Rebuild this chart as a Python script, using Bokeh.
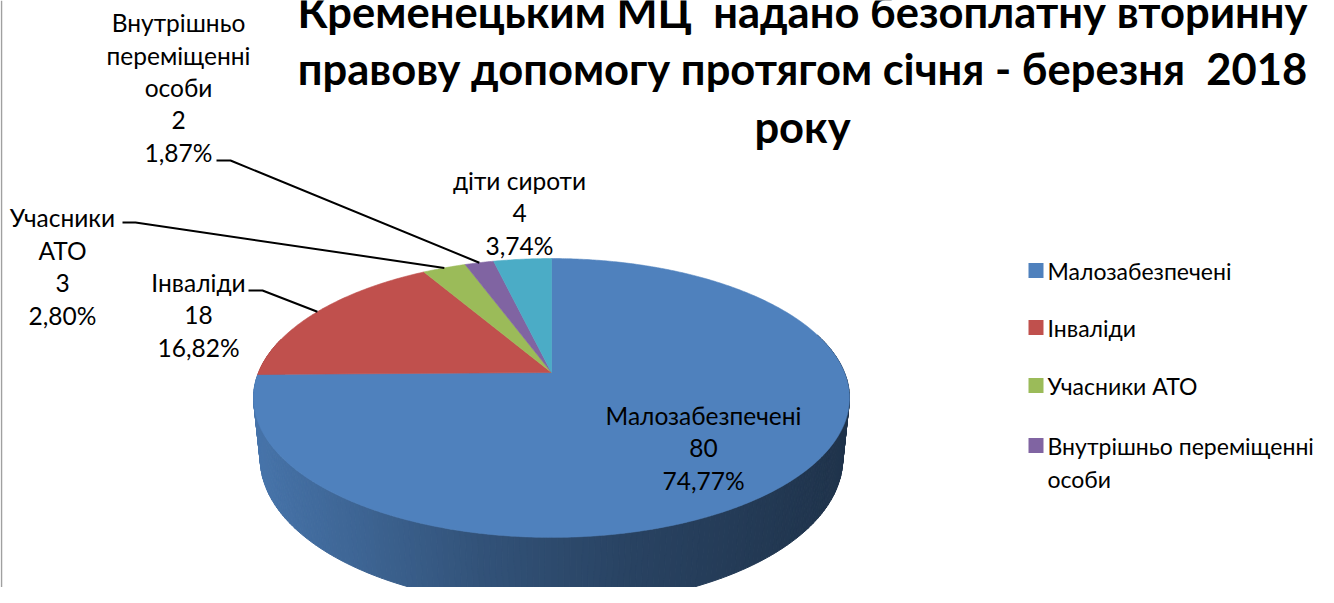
import numpy as np
from bokeh.plotting import figure
from bokeh.models import Range1d
from bokeh.core.properties import value
from bokeh.embed import file_html
from bokeh.resources import INLINE

# ---------------- data ----------------
categories = ["Малозабезпечені", "Інваліди", "Учасники АТО",
              "Внутрішньо переміщенні особи", "діти сироти"]
values = [80, 18, 3, 2, 4]
colors = ["#4F81BD", "#C0504D", "#9BBB59", "#8064A2", "#4BACC6"]
label_names = ["Малозабезпечені", "Інваліди", "Учасники\nАТО",
               "Внутрішньо\nпереміщенні\nособи", "діти сироти"]
legend_names = ["Малозабезпечені", "Інваліди", "Учасники АТО",
                "Внутрішньо переміщенні\nособи"]
title_lines = ["Кременецьким МЦ \u00a0надано безоплатну вторинну",
               "правову допомогу протягом січня - березня \u00a02018",
               "року"]

# ---------------- layout ----------------
W, H_PX = 1318, 587
FONT = "Lato"
LABEL_SIZE = "24.5px"
LEGEND_SIZE = "23px"
LINE_SP = 32.5

# 3D pie projection parameters (screen pixels)
CX, CY = 551.0, 372.0
DIST, FOC, SA, CA, DEPTH = 4.861, 1424.0, 0.46, 0.888, 0.235


def proj(th, z=0.0):
    X = np.cos(th)
    Y = np.sin(th)
    d = DIST + Y * CA - z * SA
    return CX + FOC * X / d, CY - FOC * (Y * SA + z * CA) / d


p = figure(width=W, height=H_PX, output_backend="svg", toolbar_location=None,
           x_range=Range1d(0, W), y_range=Range1d(H_PX, 0),
           min_border=0, outline_line_color=None, background_fill_color="white")
p.axis.visible = False
p.grid.visible = False

total = float(sum(values))
cum = np.concatenate([[0.0], np.cumsum(values)])
start_deg = 90.0
a0 = [np.radians(start_deg - cum[i] / total * 360.0) for i in range(len(values))]
a1 = [np.radians(start_deg - cum[i + 1] / total * 360.0) for i in range(len(values))]


def hex_scale(hexc, f):
    r, g, b = int(hexc[1:3], 16), int(hexc[3:5], 16), int(hexc[5:7], 16)
    return "#%02x%02x%02x" % (int(r * f), int(g * f), int(b * f))


# ---- side of the pie (vertical strips with shading) ----
sxs, sys_, scol = [], [], []
step = np.radians(1.0)
for t in np.arange(np.radians(165), np.radians(376), step):
    t2 = t + step
    xa, ya = proj(t)
    xb, yb = proj(t2)
    xc, yc = proj(t2, -DEPTH)
    xd, yd = proj(t, -DEPTH)
    mid = t + step / 2
    off = ((start_deg - np.degrees(mid)) % 360.0) / 360.0 * total
    idx = int(np.searchsorted(cum, off, side="right") - 1)
    idx = min(max(idx, 0), len(values) - 1)
    xm = (xa + xb) / 2
    f = np.interp(xm, [255, 480, 630, 848], [0.90, 0.64, 0.52, 0.40])
    sxs.append([xa, xb, xc, xd])
    sys_.append([ya, yb, yc, yd])
    scol.append(hex_scale(colors[idx], f))
p.patches(sxs, sys_, fill_color=scol, line_color=scol, line_width=1)

# ---- top faces of slices ----
txs, tys = [], []
for i in range(len(values)):
    n = max(int(abs(a1[i] - a0[i]) / np.radians(0.5)) + 2, 4)
    th = np.linspace(a0[i], a1[i], n)
    x, y = proj(th)
    txs.append([CX] + list(x))
    tys.append([CY] + list(y))
p.patches(txs, tys, fill_color=colors, line_color=colors, line_width=0.6)

# ---- data labels ----
label_pos = {0: (703, 415), 1: (198, 282), 2: (62, 217), 3: (178, 22), 4: (519, 180)}
lx, ly, lt = [], [], []
for i in range(len(values)):
    pct = ("%.2f" % (values[i] / total * 100)).replace(".", ",") + "%"
    lines = label_names[i].split("\n") + [str(values[i]), pct]
    x0, y0 = label_pos[i]
    for k, s in enumerate(lines):
        lx.append(x0)
        ly.append(y0 + k * LINE_SP)
        lt.append(s)
p.text(lx, ly, text=lt, text_font=value(FONT), text_font_size=LABEL_SIZE,
       text_align="center", text_baseline="middle", text_color="#000000")

# ---- leader lines ----
leaders = {1: [(248, 290), (262, 290)], 2: [(122, 222), (135, 222)], 3: [(216, 160), (230, 160)]}
for i, pts in leaders.items():
    mid = (a0[i] + a1[i]) / 2
    ex, ey = proj(mid)
    xs = [pt[0] for pt in pts] + [ex]
    ys = [pt[1] for pt in pts] + [ey]
    p.line(xs, ys, line_color="black", line_width=2)

# ---- legend ----
leg_y = [270, 327, 385, 445]
p.rect([1035.5] * len(legend_names), leg_y, width=15, height=15,
       fill_color=colors[:len(legend_names)], line_color=None)
gx, gy, gt = [], [], []
for i, name in enumerate(legend_names):
    for k, s in enumerate(name.split("\n")):
        gx.append(1047)
        gy.append(leg_y[i] + k * 33)
        gt.append(s)
p.text(gx, gy, text=gt, text_font=value(FONT), text_font_size=LEGEND_SIZE,
       text_align="left", text_baseline="middle", text_color="#000000")

# ---- title ----
title_y = [10, 67, 125]
p.text([802] * 3, title_y, text=title_lines, text_font=value(FONT),
       text_font_size="43.5px", text_font_style="bold", text_align="center",
       text_baseline="middle", text_color="#000000")

# chart border on the left
p.line([1, 1], [0, H_PX], line_color="#a0a0a0", line_width=1.5)

open("out.html", "w").write(file_html(p, INLINE))
